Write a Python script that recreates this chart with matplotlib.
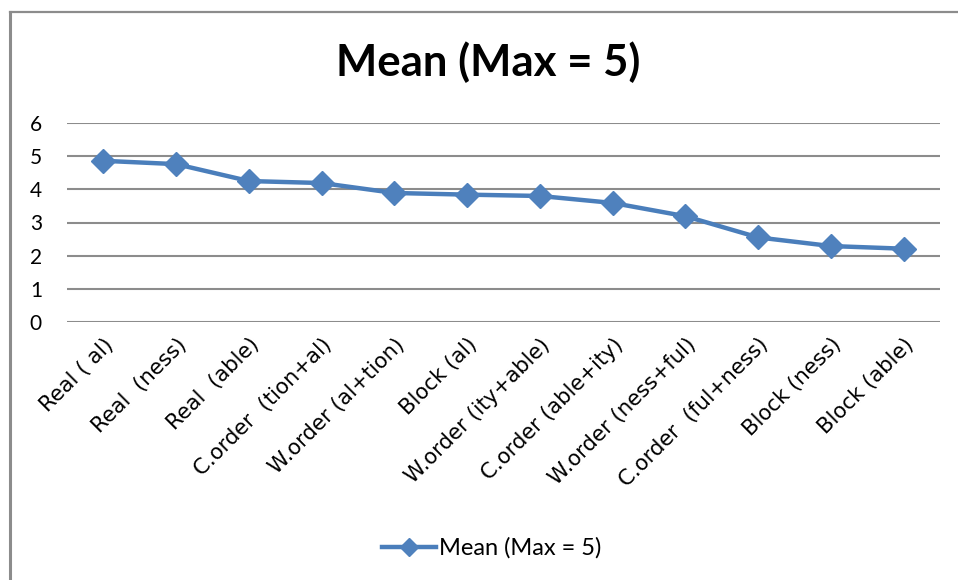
import matplotlib.pyplot as plt
from matplotlib.lines import Line2D

plt.rcParams['font.family'] = ['Lato', 'DejaVu Sans']

# 数据
categories = ['Real ( al)', 'Real  (ness)', 'Real  (able)', 'C.order  (tion+al)',
              'W.order (al+tion)', 'Block (al)', 'W.order (ity+able)',
              'C.order (able+ity)', 'W.order (ness+ful)', 'C.order  (ful+ness)',
              'Block (ness)', 'Block (able)']
means = [4.86, 4.76, 4.25, 4.19, 3.89, 3.84, 3.80, 3.59, 3.19, 2.55, 2.29, 2.21]
y_ticks = [0, 1, 2, 3, 4, 5, 6]
series_name = 'Mean (Max = 5)'

fig = plt.figure(figsize=(9.58, 5.8), dpi=100)
ax = fig.add_axes([67/958, (580-322)/580, (940-67)/958, (322-123)/580])

x = range(len(categories))
ax.plot(x, means, color='#4A7EBB', lw=3.2, marker='D', ms=12,
        markerfacecolor='#4F81BD', markeredgecolor='#4F81BD', label=series_name)

ax.set_xlim(-0.5, len(categories) - 0.5)
ax.set_ylim(0, 6)
ax.set_yticks(y_ticks)
ax.set_xticks(list(x))
ax.set_xticklabels(categories, rotation=45, ha='right', rotation_mode='anchor',
                   family='DejaVu Sans', fontsize=15.3)
ax.tick_params(axis='y', length=0, labelsize=15, pad=18)
ax.tick_params(axis='x', length=0, pad=9)
ax.grid(axis='y', color='#8c8c8c', lw=1.5)
ax.set_axisbelow(True)
for s in ax.spines.values():
    s.set_visible(False)

fig.text(0.51, 0.893, series_name, ha='center', va='center',
         fontsize=31.5, fontweight='bold')

fig.legend(loc='center', bbox_to_anchor=(0.513, 0.055), frameon=False,
           fontsize=17, handlelength=2.3, handletextpad=0.1, markerscale=0.8)

# 外框
fig.add_artist(Line2D([10/958, 10/958], [0, 1 - 12/580], color='#8c8c8c', lw=2.2))
fig.add_artist(Line2D([10/958, 1], [1 - 12/580, 1 - 12/580], color='#8c8c8c', lw=1.6))

fig.savefig('out.png', dpi=100)
